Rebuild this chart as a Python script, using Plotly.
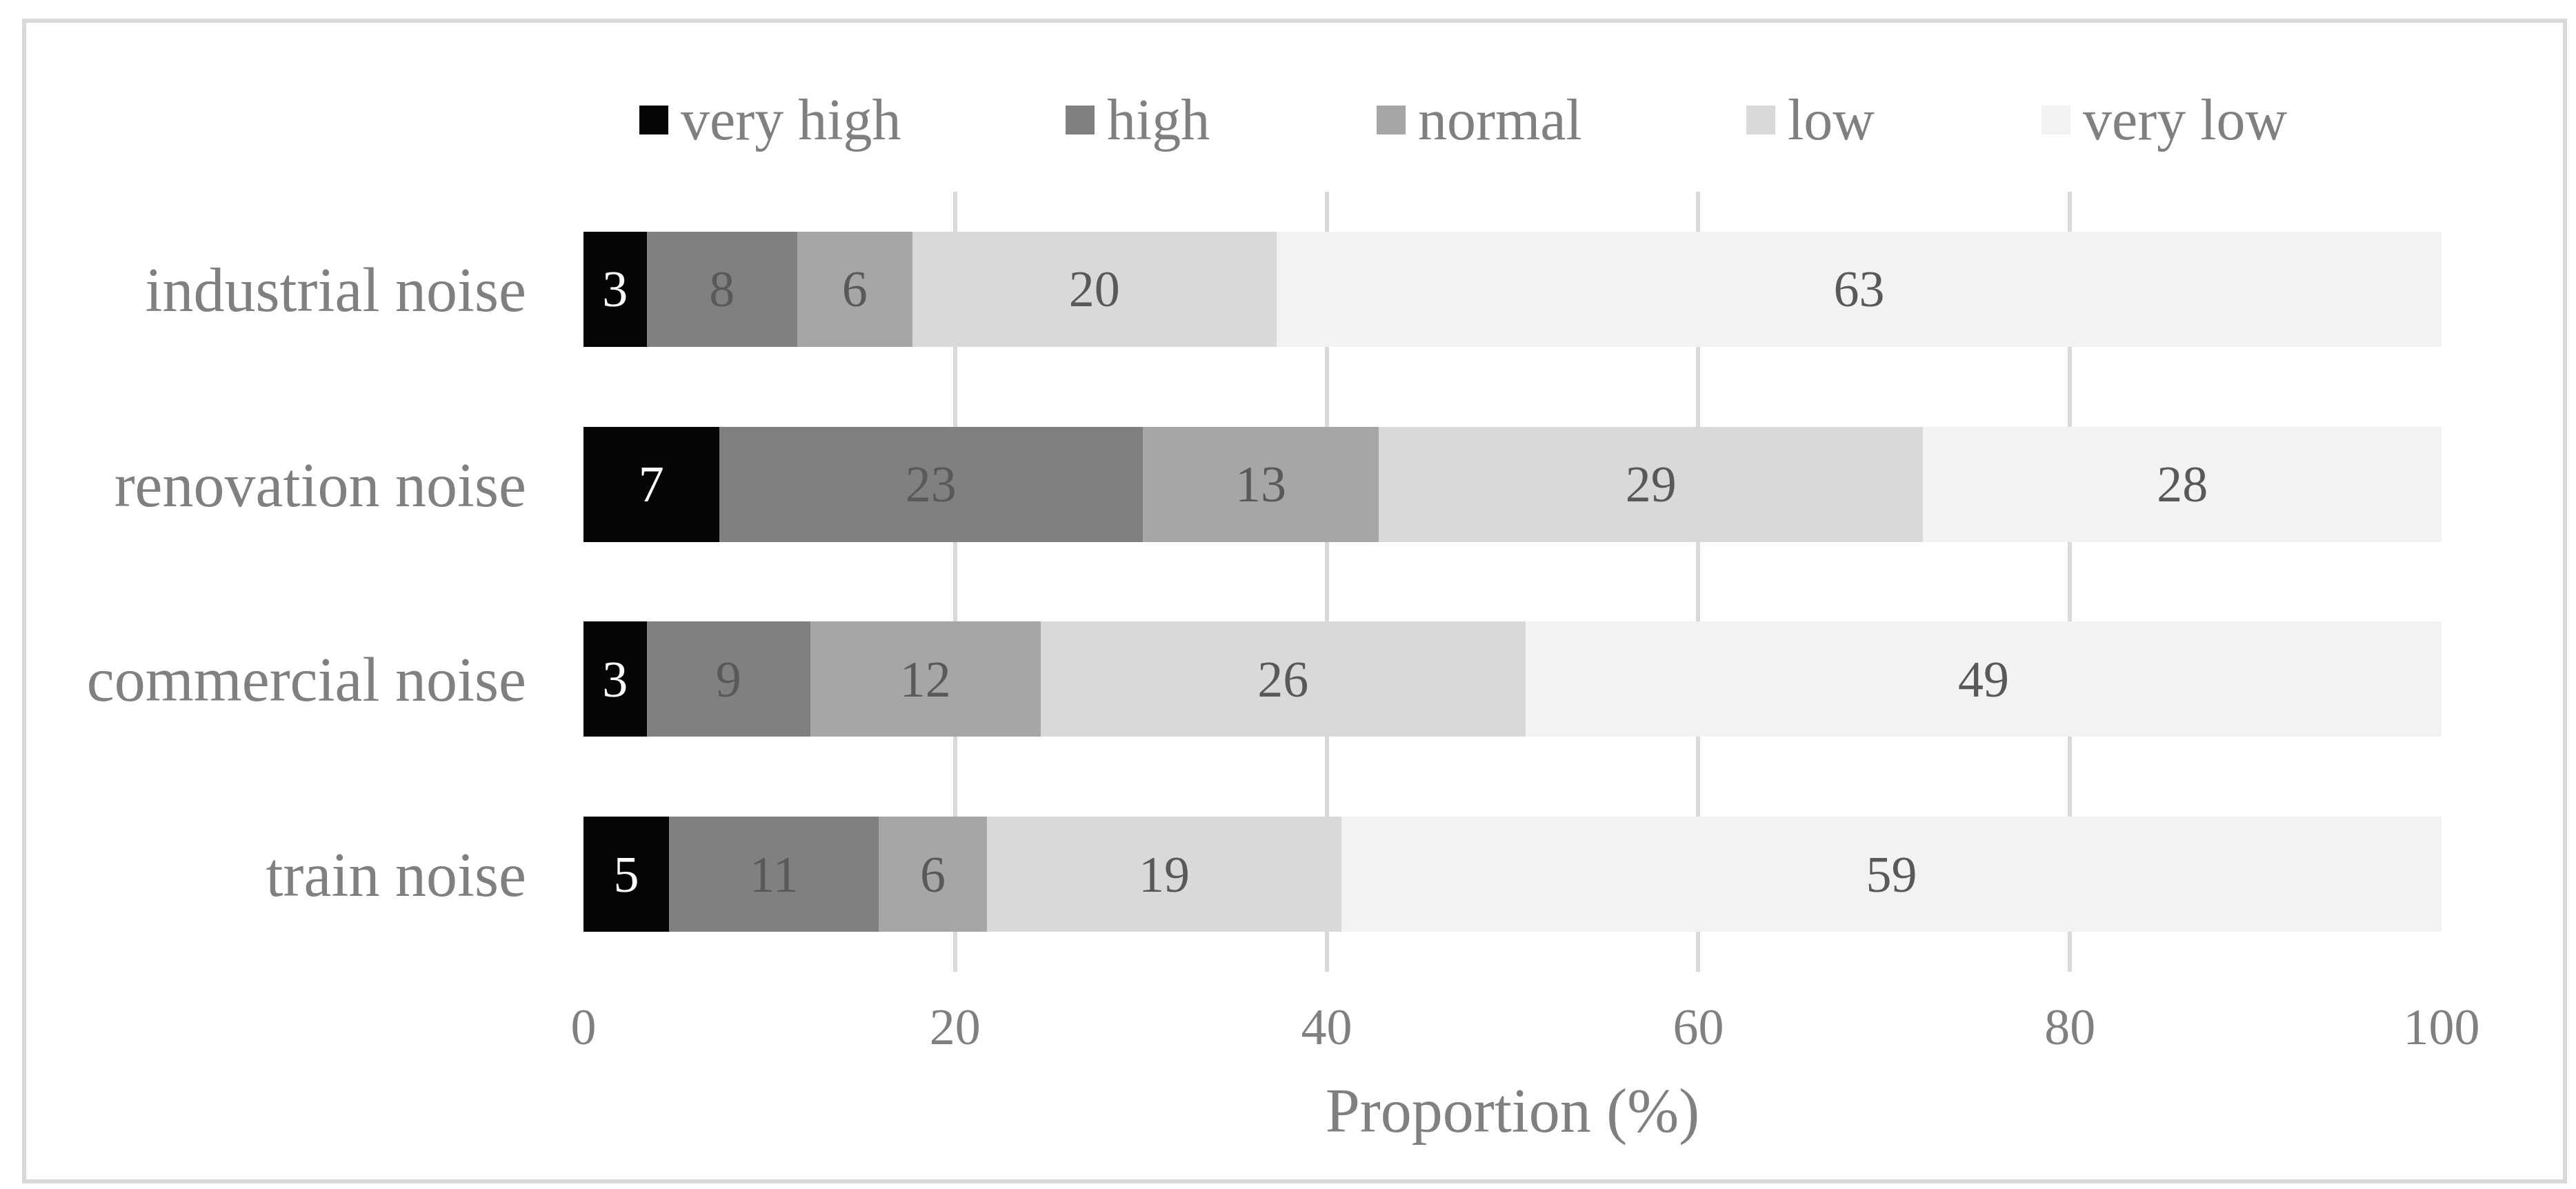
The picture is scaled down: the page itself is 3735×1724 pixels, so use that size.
import plotly.graph_objects as go

W, H = 3735, 1724
# plot area in pixels (left, right, top, bottom)
PL, PR, PT, PB = 838, 3532, 270, 1401

categories = ["train noise", "commercial noise", "renovation noise", "industrial noise"]
levels = ["very high", "high", "normal", "low", "very low"]

very_high = [4.6, 3.4, 7.3, 3.4]
high = [11.3, 8.8, 22.8, 8.1]
normal = [5.8, 12.4, 12.7, 6.2]
low = [19.1, 26.1, 29.3, 19.6]
very_low = [59.2, 49.3, 27.9, 62.7]

series = [very_high, high, normal, low, very_low]
bar_colors = ["#050505", "#808080", "#a6a6a6", "#d9d9d9", "#f2f2f2"]
label_colors = ["#ffffff", "#595959", "#595959", "#595959", "#595959"]

FONT = "Liberation Serif, Times New Roman, serif"
GRAY = "#808080"


def px_x(px):
    return (px - PL) / (PR - PL)


def px_y(py):
    return (PB - py) / (PB - PT)


fig = go.Figure()
for name, vals, col, tcol in zip(levels, series, bar_colors, label_colors):
    fig.add_trace(go.Bar(
        y=categories, x=vals, name=name, orientation="h",
        marker=dict(color=col, line=dict(width=0)),
        texttemplate="%{x:.0f}", textposition="inside",
        insidetextanchor="middle", textangle=0, constraintext="none",
        textfont=dict(family=FONT, size=74, color=tcol),
        showlegend=False,
    ))

# legend drawn by hand so the swatches can be as large as the original
swatch_left = [919, 1537, 1988, 2524, 2952]
for name, col, sx in zip(levels, bar_colors, swatch_left):
    fig.add_shape(type="rect", xref="paper", yref="paper",
                  x0=px_x(sx), x1=px_x(sx + 42), y0=px_y(187), y1=px_y(145),
                  fillcolor=col, line=dict(width=0))
    fig.add_annotation(text=name, xref="paper", yref="paper",
                       x=px_x(sx + 58), y=px_y(166), xanchor="left", yanchor="middle",
                       showarrow=False, font=dict(family=FONT, size=84, color=GRAY))

# outer chart frame
fig.add_shape(type="rect", xref="paper", yref="paper",
              x0=px_x(27), x1=px_x(3711), y0=px_y(1705), y1=px_y(22),
              line=dict(color="#d9d9d9", width=6), fillcolor="rgba(0,0,0,0)")

fig.update_layout(
    width=W, height=H,
    barmode="stack", bargap=0.41,
    plot_bgcolor="white", paper_bgcolor="white",
    margin=dict(l=PL, r=W - PR, t=PT, b=H - PB, autoexpand=False),
    font=dict(family=FONT, color=GRAY),
    xaxis=dict(
        range=[0, 100], tickvals=[0, 20, 40, 60, 80, 100],
        showgrid=True, gridcolor="#d9d9d9", gridwidth=6,
        zeroline=False, showline=False, ticks="",
        tickfont=dict(family=FONT, size=74, color=GRAY),
        ticklabelstandoff=30,
        title=dict(text="Proportion (%)", standoff=48,
                   font=dict(family=FONT, size=90, color=GRAY)),
    ),
    yaxis=dict(
        showgrid=False, zeroline=False, showline=False, ticks="",
        tickfont=dict(family=FONT, size=90, color=GRAY),
        ticklabelstandoff=82,
    ),
)

fig.write_html("out.html")
